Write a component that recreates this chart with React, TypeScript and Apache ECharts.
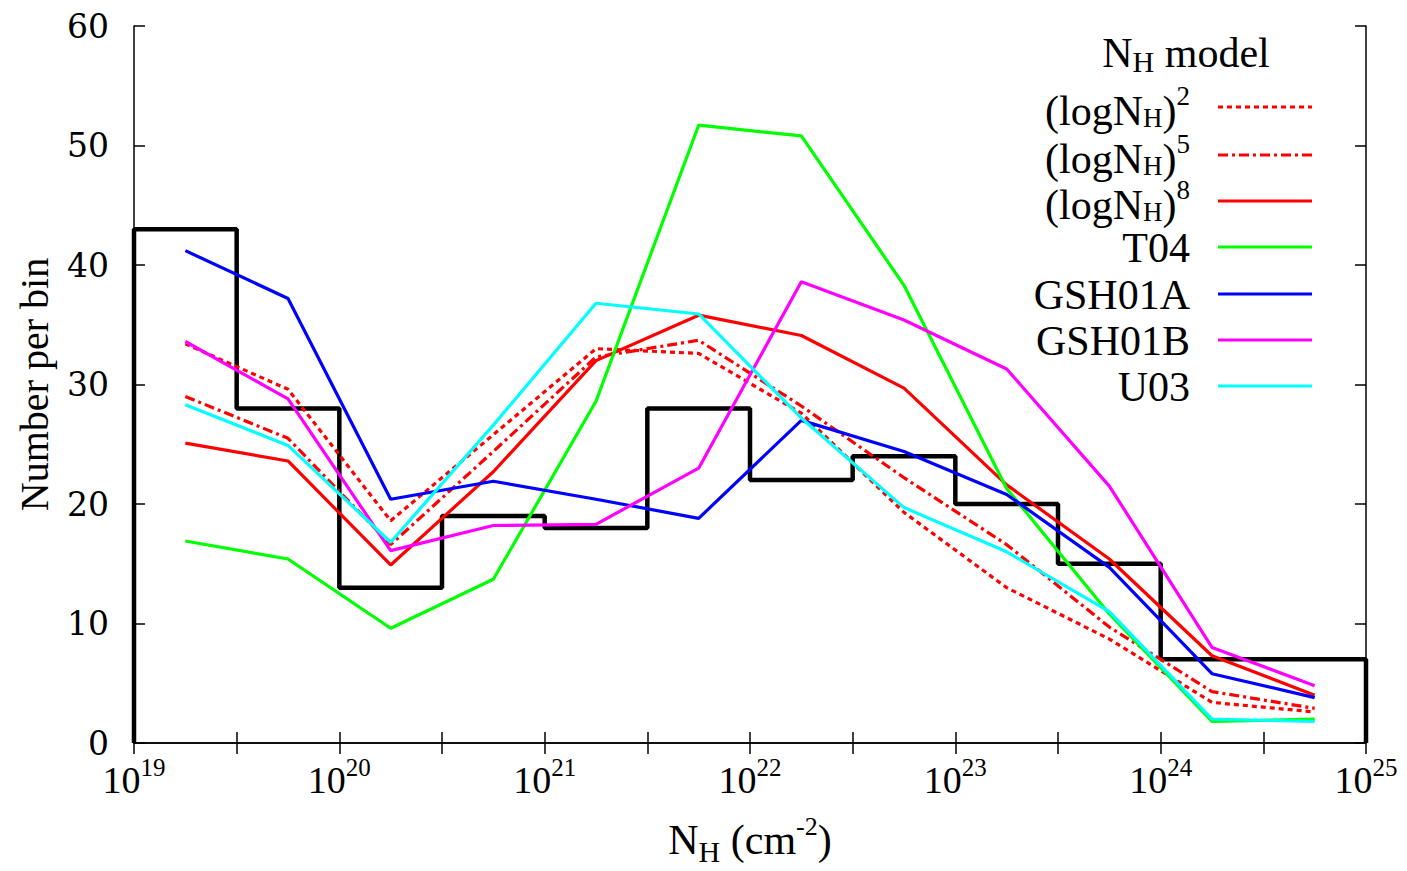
import React, { useEffect, useRef } from 'react';
import * as echarts from 'echarts';

// Histogram (observed): bin edges in log10(NH) and counts
const binEdges = [19, 19.5, 20, 20.5, 21, 21.5, 22, 22.5, 23, 23.5, 24, 24.5, 25];
const binCounts = [43, 28, 13, 19, 18, 28, 22, 24, 20, 15, 7, 7];

// Model curves, sampled at bin centres (log10 NH)
const logNH = [19.25, 19.75, 20.25, 20.75, 21.25, 21.75, 22.25, 22.75, 23.25, 23.75, 24.25, 24.75];
const logPow2 = [33.4, 29.6, 18.6, 25.8, 33.0, 32.6, 27.6, 19.3, 13.0, 8.7, 3.4, 2.6];
const logPow5 = [29.0, 25.5, 16.6, 24.4, 32.3, 33.7, 28.2, 22.2, 16.6, 9.7, 4.3, 2.9];
const logPow8 = [25.1, 23.6, 14.9, 22.7, 32.0, 35.8, 34.1, 29.7, 21.6, 15.4, 7.3, 4.0];
const t04 = [16.9, 15.4, 9.6, 13.7, 28.6, 51.7, 50.8, 38.3, 21.3, 10.8, 1.8, 2.0];
const gsh01a = [41.2, 37.2, 20.4, 21.9, 20.4, 18.8, 27.0, 24.4, 20.8, 14.7, 5.8, 3.8];
const gsh01b = [33.6, 28.8, 16.1, 18.2, 18.3, 23.0, 38.6, 35.4, 31.3, 21.5, 8.0, 4.8];
const u03 = [28.3, 24.9, 16.8, 26.6, 36.8, 35.9, 27.2, 19.7, 16.0, 11.0, 2.0, 1.8];

const modelNames = ['(logNH)^2', '(logNH)^5', '(logNH)^8', 'T04', 'GSH01A', 'GSH01B', 'U03'];
const modelLabels = [
  '(logN{sub|H}){sup|2}',
  '(logN{sub|H}){sup|5}',
  '(logN{sub|H}){sup|8}',
  'T04',
  'GSH01A',
  'GSH01B',
  'U03',
];
const modelValues = [logPow2, logPow5, logPow8, t04, gsh01a, gsh01b, u03];
const modelColors = ['#ff0000', '#ff0000', '#ff0000', '#00ff00', '#0000ff', '#ff00ff', '#00ffff'];
const modelDash: (number[] | 'solid')[] = [[5, 4], [10, 4, 3, 4], 'solid', 'solid', 'solid', 'solid', 'solid'];

const SERIF = 'Liberation Serif';

export default function App() {
  const ref = useRef<HTMLDivElement>(null);

  useEffect(() => {
    if (!ref.current) return;
    const chart = echarts.init(ref.current, undefined, { renderer: 'svg' });

    const histData: number[][] = [[binEdges[0], 0]];
    for (let i = 0; i < binCounts.length; i++) histData.push([binEdges[i], binCounts[i]]);
    histData.push([binEdges[binEdges.length - 1], 0]);

    const richMain = {
      sub: { fontSize: 27, fontFamily: SERIF, color: '#000', padding: [14, 0, 0, 0] },
      sup: { fontSize: 27, fontFamily: SERIF, color: '#000', padding: [0, 0, 30, 0] },
    };

    const legendX = 1190;
    const legendLineX1 = 1218;
    const legendLineX2 = 1312;
    const rowY = [107, 155, 201, 247, 294, 340, 386];

    const graphics: any[] = [
      {
        type: 'text',
        x: 1186,
        y: 53,
        style: {
          text: 'N{sub|H} model',
          fontSize: 42,
          fontFamily: SERIF,
          fill: '#000',
          align: 'center',
          verticalAlign: 'middle',
          rich: {
            sub: { fontSize: 30, fontFamily: SERIF, color: '#000', padding: [16, 0, 0, 0] },
          },
        },
      },
    ];
    modelNames.forEach((_, i) => {
      const rich = modelLabels[i].includes('{');
      graphics.push({
        type: 'text',
        x: legendX,
        y: rowY[i] + (rich ? 4 : 1),
        style: {
          text: modelLabels[i],
          fontSize: 42,
          fontFamily: SERIF,
          fill: '#000',
          align: 'right',
          verticalAlign: 'middle',
          rich: richMain,
        },
      });
      graphics.push({
        type: 'line',
        shape: { x1: legendLineX1, y1: rowY[i], x2: legendLineX2, y2: rowY[i] },
        style: {
          stroke: modelColors[i],
          lineWidth: 3,
          lineDash: modelDash[i] === 'solid' ? null : modelDash[i],
        },
      });
    });

    const axisLineStyle = { color: '#000', width: 1.5 };

    const option: any = {
      animation: false,
      backgroundColor: '#fff',
      grid: { left: 134, right: 41, top: 26, bottom: 125, containLabel: false },
      xAxis: [
        {
          type: 'value',
          min: 19,
          max: 25,
          interval: 0.5,
          position: 'bottom',
          axisLine: { show: true, lineStyle: axisLineStyle },
          axisTick: { show: true, inside: true, length: 11, lineStyle: axisLineStyle },
          splitLine: { show: false },
          axisLabel: {
            margin: 12,
            color: '#000',
            formatter: (v: number) => (Number.isInteger(v) ? `{b|10}{s|${v}}` : ''),
            rich: {
              b: { fontSize: 38, fontFamily: SERIF, color: '#000' },
              s: { fontSize: 25, fontFamily: SERIF, color: '#000', padding: [0, 0, 24, 0] },
            },
          },
          name: 'N{sub|H} (cm{sup|-2})',
          nameLocation: 'middle',
          nameGap: 70,
          nameTextStyle: {
            fontSize: 42,
            fontFamily: SERIF,
            color: '#000',
            rich: {
              sub: { fontSize: 30, fontFamily: SERIF, color: '#000', padding: [22, 0, 0, 0] },
              sup: { fontSize: 26, fontFamily: SERIF, color: '#000', padding: [0, 0, 28, 0] },
            },
          },
        },
        {
          type: 'value',
          min: 19,
          max: 25,
          interval: 0.5,
          position: 'top',
          axisLine: { show: true, lineStyle: axisLineStyle },
          axisTick: { show: true, inside: true, length: 11, lineStyle: axisLineStyle },
          splitLine: { show: false },
          axisLabel: { show: false },
        },
      ],
      yAxis: [
        {
          type: 'value',
          min: 0,
          max: 60,
          interval: 10,
          position: 'left',
          axisLine: { show: true, lineStyle: axisLineStyle },
          axisTick: { show: true, inside: true, length: 11, lineStyle: axisLineStyle },
          splitLine: { show: false },
          axisLabel: { margin: 25, color: '#000', fontSize: 33, fontFamily: 'DejaVu Serif' },
          name: 'Number per bin',
          nameLocation: 'middle',
          nameGap: 80,
          nameTextStyle: { fontSize: 40, fontFamily: SERIF, color: '#000' },
        },
        {
          type: 'value',
          min: 0,
          max: 60,
          interval: 10,
          position: 'right',
          axisLine: { show: true, lineStyle: axisLineStyle },
          axisTick: { show: true, inside: true, length: 11, lineStyle: axisLineStyle },
          splitLine: { show: false },
          axisLabel: { show: false },
        },
      ],
      series: [
        {
          name: 'Observed',
          type: 'line',
          step: 'end',
          data: histData,
          symbol: 'none',
          lineStyle: { color: '#000', width: 4.5 },
          z: 1,
          clip: false,
        },
        ...modelNames.map((name, i) => ({
          name,
          type: 'line',
          data: logNH.map((x, j) => [x, modelValues[i][j]]),
          symbol: 'none',
          lineStyle: { color: modelColors[i], width: 3.2, type: modelDash[i] },
          z: 2 + i,
        })),
      ],
      graphic: graphics,
    };

    chart.setOption(option);
    return () => chart.dispose();
  }, []);

  return (
    <div
      ref={ref}
      style={{ position: 'fixed', left: 0, top: 0, width: 1407, height: 871, background: '#fff' }}
    />
  );
}
